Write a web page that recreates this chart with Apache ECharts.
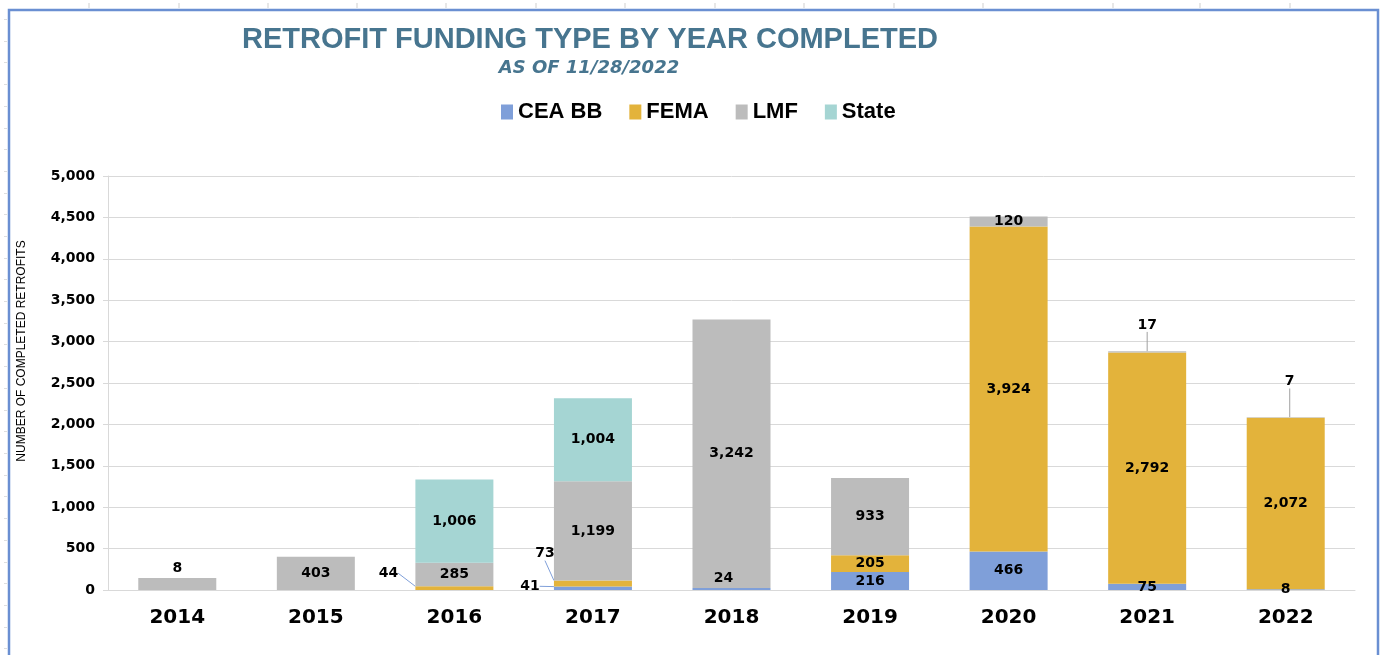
<!DOCTYPE html>
<html>
<head>
<meta charset="UTF-8">
<title>Retrofit Funding Type</title>
<script src="https://cdn.jsdelivr.net/npm/echarts@6/dist/echarts.min.js"></script>
<style>
  html, body { margin: 0; padding: 0; background: #fff; }
  #main { width: 1382px; height: 655px; }
</style>
</head>
<body>
<div id="main"></div>
<script type="text/javascript">
// data
var years = ['2014', '2015', '2016', '2017', '2018', '2019', '2020', '2021', '2022'];
var ceaBB = [null, null, null, 41, 24, 216, 466, 75, 8];
var fema  = [null, null, 44, 73, null, 205, 3924, 2792, 2072];
var lmf   = [144, 403, 285, 1199, 3242, 933, 120, 17, 7];   // 2014 bar is drawn ~144 tall
var lmfPrinted = [8, 403, 285, 1199, 3242, 933, 120, 17, 7]; // but labelled 8
var state = [null, null, 1006, 1004, null, null, null, null, null];
var yTicks = [0, 500, 1000, 1500, 2000, 2500, 3000, 3500, 4000, 4500, 5000];

// labels that were dragged aside in the original (series-index, data-index) -> [dx, dy]
var labelMoves = {
  '1-2': [-66, -15],
  '0-3': [-63, -2],
  '1-3': [-48, -30],
  '0-4': [-8, -11],
  '2-7': [0, -27],
  '2-8': [4, -36]
};

// spreadsheet cell marks peeking round the chart frame
var sheetCols = [89, 179, 268, 357, 446, 536, 625, 715, 804, 894, 983, 1113, 1200, 1290];

var myChart = echarts.init(document.getElementById('main'));

function fmt(v) {
  if (v === null || v === undefined) return '';
  return Number(v).toLocaleString('en-US');
}

var labelFont = {
  show: true,
  color: '#000',
  fontFamily: 'DejaVu Sans',
  fontWeight: 'bold',
  fontSize: 14
};

function makeSeries(name, values, color, lineColor, printed) {
  return {
    name: name,
    type: 'bar',
    stack: 'total',
    barWidth: 78,
    itemStyle: { color: color },
    label: Object.assign({}, labelFont, {
      formatter: function (p) {
        return fmt(printed ? printed[p.dataIndex] : p.value);
      }
    }),
    labelLine: { show: true, lineStyle: { color: lineColor, width: 1 } },
    data: values.map(function (v, i) {
      // 2014 label sits on top of its bar
      if (name === 'LMF' && i === 0) {
        return { value: v, label: { position: 'top', distance: 3 }, labelLine: { show: false } };
      }
      return v;
    })
  };
}

var graphics = [
  {
    type: 'rect',
    shape: { x: 9, y: 10, width: 1369, height: 700 },
    style: { fill: 'none', stroke: '#6a8fd2', lineWidth: 2.5 },
    silent: true
  },
  {
    type: 'text',
    x: 590, y: 40,
    style: {
      text: 'RETROFIT FUNDING TYPE BY YEAR COMPLETED',
      fill: '#47758f',
      font: 'bold 29px "Liberation Sans"',
      textAlign: 'center',
      textVerticalAlign: 'middle'
    }
  },
  {
    type: 'text',
    x: 589, y: 68,
    style: {
      text: 'AS OF 11/28/2022',
      fill: '#47758f',
      font: 'italic bold 18px "DejaVu Sans"',
      textAlign: 'center',
      textVerticalAlign: 'middle'
    }
  },
  {
    type: 'text',
    x: 22, y: 351,
    rotation: Math.PI / 2,
    style: {
      text: 'NUMBER OF COMPLETED RETROFITS',
      fill: '#000',
      font: '12px "Liberation Sans"',
      textAlign: 'center',
      textVerticalAlign: 'middle'
    }
  }
];
sheetCols.forEach(function (x) {
  graphics.push({
    type: 'line', silent: true,
    shape: { x1: x, y1: 3, x2: x, y2: 8 },
    style: { stroke: '#cfcfcf', lineWidth: 1 }
  });
});
for (var y = 19; y < 655; y += 21.7) {
  graphics.push({
    type: 'line', silent: true,
    shape: { x1: 4, y1: Math.round(y) + 0.5, x2: 7, y2: Math.round(y) + 0.5 },
    style: { stroke: '#dedede', lineWidth: 1 }
  });
}

var option = {
  animation: false,
  textStyle: { fontFamily: 'Liberation Sans' },
  graphic: graphics,
  legend: {
    left: 496,
    top: 96,
    itemWidth: 12,
    itemHeight: 15,
    itemGap: 27,
    icon: 'rect',
    textStyle: { fontFamily: 'Liberation Sans', fontWeight: 'bold', fontSize: 22, color: '#000' },
    data: ['CEA BB', 'FEMA', 'LMF', 'State']
  },
  grid: { left: 108, right: 27, top: 176, bottom: 65 },
  xAxis: {
    type: 'category',
    data: years,
    axisLine: { lineStyle: { color: '#d9d9d9' } },
    axisTick: { show: false },
    axisLabel: {
      margin: 18,
      color: '#000',
      fontFamily: 'DejaVu Sans',
      fontWeight: 'bold',
      fontSize: 20
    }
  },
  yAxis: {
    type: 'value',
    min: yTicks[0],
    max: yTicks[yTicks.length - 1],
    interval: yTicks[1] - yTicks[0],
    axisLine: { show: true, lineStyle: { color: '#d9d9d9' } },
    axisTick: { show: true, length: 5, lineStyle: { color: '#d9d9d9' } },
    splitLine: { lineStyle: { color: '#d9d9d9' } },
    axisLabel: {
      margin: 13,
      color: '#000',
      fontFamily: 'DejaVu Sans',
      fontWeight: 'bold',
      fontSize: 14,
      formatter: function (v) { return fmt(v); }
    }
  },
  labelLayout: function (p) {
    var m = labelMoves[p.seriesIndex + '-' + p.dataIndex];
    if (m) return { dx: m[0], dy: m[1] };
    return {};
  },
  series: [
    makeSeries('CEA BB', ceaBB, '#7f9fd9', '#7f9fd9'),
    makeSeries('FEMA', fema, '#e3b33b', '#7f9fd9'),
    makeSeries('LMF', lmf, '#bcbcbc', '#a0a0a0', lmfPrinted),
    makeSeries('State', state, '#a5d5d3', '#a0a0a0')
  ]
};

myChart.setOption(option);
</script>
</body>
</html>
